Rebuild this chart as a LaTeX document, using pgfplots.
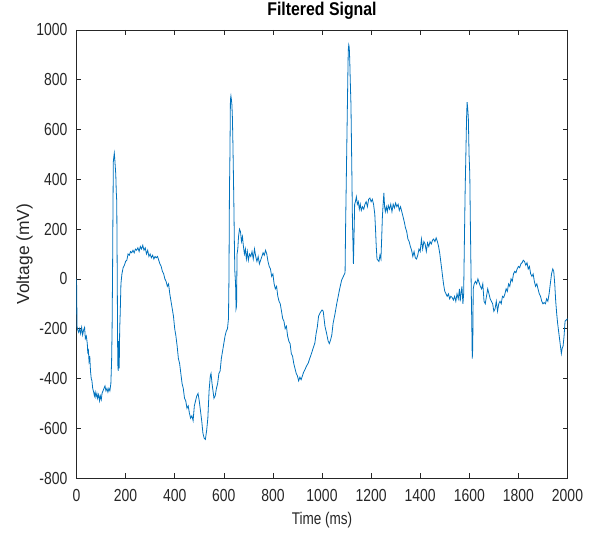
\documentclass[border=0pt]{standalone}
\usepackage{fontspec}
\setmainfont{Liberation Sans}[FakeStretch=0.8]
\newfontfamily\ylabfont{Liberation Sans}
\newfontfamily\titlefont{Liberation Sans}[FakeStretch=0.86]
\usepackage{pgfplots}
\pgfplotsset{compat=1.18}
\definecolor{mblue}{HTML}{0072BD}
\definecolor{axgray}{HTML}{262626}
\pgfplotstableread{
x y
0 0
1 -60
2 -190
5 -205
9 -215
13 -200
17 -220
21 -195
25 -225
29 -205
33 -195
36 -240
40 -230
44 -260
46 -300
48 -280
51 -330
54 -310
57 -370
60 -400
63 -410
66 -440
70 -455
73 -470
76 -455
79 -475
83 -460
86 -480
90 -465
94 -490
97 -470
101 -485
104 -460
108 -450
112 -440
116 -430
120 -450
124 -440
128 -455
132 -440
136 -450
140 -420
143 -330
145 -200
147 40
148 200
150 470
152 490
154 505
156 480
158 450
160 420
162 350
164 310
166 0
168 -340
170 -370
172 -250
174 -360
176 -200
178 -140
181 -20
185 20
190 45
195 55
200 70
205 75
210 100
215 95
220 110
225 105
230 115
235 105
240 120
245 115
250 125
255 110
260 130
265 120
270 135
275 115
280 125
285 100
290 115
295 90
300 100
305 85
310 95
315 80
320 90
325 85
330 90
335 75
340 60
345 50
350 30
355 20
360 0
365 -10
370 -30
375 -20
380 -60
385 -90
390 -120
395 -150
400 -200
405 -230
410 -270
415 -320
420 -340
425 -380
430 -420
435 -440
440 -480
445 -490
450 -520
455 -510
460 -540
465 -560
470 -550
475 -570
480 -510
485 -490
490 -470
495 -460
500 -490
505 -530
510 -570
515 -620
520 -640
525 -645
530 -610
535 -560
540 -450
545 -390
548 -380
552 -420
556 -450
560 -480
565 -470
570 -440
575 -420
580 -380
585 -370
590 -320
595 -290
600 -260
605 -230
610 -210
615 -200
619 -160
621 0
623 350
625 500
627 720
629 735
631 720
633 700
635 650
637 550
639 430
641 300
643 150
645 30
648 -20
650 -120
652 -110
654 100
657 120
660 170
664 200
668 190
672 150
676 170
680 130
684 100
688 120
692 80
696 110
700 75
705 100
710 90
715 110
720 80
725 120
730 90
735 70
740 90
745 60
750 75
755 90
760 105
765 95
770 115
775 100
780 70
785 50
790 40
795 10
800 20
805 -20
810 -40
815 -30
820 -70
825 -90
830 -100
835 -130
840 -160
845 -170
850 -200
855 -190
860 -230
865 -250
870 -260
875 -300
880 -310
885 -340
890 -360
895 -380
900 -390
905 -410
910 -395
915 -405
920 -390
925 -375
930 -366
937 -350
944 -338
950 -320
958 -297
965 -275
971 -257
976 -220
981 -193
986 -150
992 -137
1000 -125
1005 -130
1012 -190
1019 -220
1025 -250
1030 -260
1035 -245
1040 -225
1045 -180
1053 -140
1060 -100
1066 -70
1072 -40
1080 -5
1087 10
1094 25
1096 200
1099 400
1102 600
1105 800
1107 920
1109 940
1111 930
1113 880
1115 800
1118 700
1120 550
1122 400
1124 230
1126 150
1128 60
1130 150
1133 300
1136 310
1140 330
1144 300
1148 310
1152 280
1156 300
1160 275
1165 290
1170 280
1175 300
1180 310
1185 290
1190 320
1195 325
1200 310
1205 320
1210 300
1215 260
1218 200
1221 130
1224 80
1228 75
1232 70
1236 95
1240 80
1243 160
1246 250
1249 300
1252 345
1255 290
1258 270
1262 290
1266 270
1270 295
1275 280
1280 300
1285 270
1290 300
1295 285
1300 305
1305 290
1310 300
1315 275
1320 290
1325 270
1330 250
1335 230
1340 205
1345 190
1350 160
1355 150
1360 130
1365 115
1370 90
1375 110
1380 85
1385 80
1390 95
1395 120
1400 110
1405 160
1410 120
1415 150
1420 140
1425 110
1430 145
1435 130
1440 150
1445 140
1450 155
1455 160
1460 150
1465 165
1470 150
1475 130
1480 100
1485 60
1490 20
1495 -20
1500 -50
1505 -60
1510 -70
1515 -60
1520 -80
1525 -70
1530 -75
1535 -85
1540 -70
1545 -90
1550 -60
1555 -80
1560 -40
1563 -90
1566 -60
1570 -30
1574 -100
1577 -60
1580 150
1583 350
1586 500
1589 650
1591 710
1593 690
1596 650
1599 500
1602 420
1604 250
1606 100
1608 -50
1610 -170
1612 -320
1614 -280
1616 -40
1620 -20
1625 -10
1630 -20
1635 0
1640 -15
1645 -30
1650 -40
1655 -20
1660 -90
1665 -100
1670 -70
1675 -40
1680 -60
1685 -80
1690 -90
1695 -100
1700 -130
1705 -120
1710 -90
1715 -130
1720 -100
1725 -90
1730 -100
1735 -70
1740 -75
1745 -60
1750 -40
1755 -50
1760 -20
1765 -30
1770 0
1775 -10
1780 20
1785 30
1790 25
1795 40
1800 50
1805 45
1810 60
1815 65
1820 75
1825 70
1830 55
1835 65
1840 40
1845 50
1850 20
1855 10
1860 20
1865 -10
1870 -30
1875 -20
1880 -40
1885 -60
1890 -70
1895 -90
1900 -100
1905 -95
1910 -100
1915 -80
1920 -90
1925 -60
1930 -20
1935 20
1940 40
1944 30
1948 -20
1952 -90
1956 -140
1960 -180
1965 -220
1970 -260
1975 -300
1978 -280
1982 -270
1986 -230
1990 -170
1995 -165
2000 -160
}\sigdata
\begin{document}
\begin{tikzpicture}
\begin{axis}[
  scale only axis, width=491bp, height=448bp,
  xmin=0, xmax=2000, ymin=-800, ymax=1000,
  xtick={0,200,...,2000}, ytick={-800,-600,...,1000},
  scaled ticks=false,
  tick align=inside, major tick length=5bp,
  axis line style={axgray, line width=0.6bp},
  every tick/.style={axgray, line width=0.6bp},
  /pgf/number format/assume math mode=true,
  /pgf/number format/1000 sep={},
  ticklabel style={font=\fontsize{17.5}{20}\selectfont, text=axgray},
  xticklabel style={inner sep=0pt, anchor=north, yshift=-11bp},
  yticklabel style={inner sep=0pt, anchor=east, xshift=-9bp},
  title={\bfseries Filtered Signal},
  title style={font=\titlefont\fontsize{18.5}{21}\selectfont, at={(axis description cs:0.5,1.029)}, anchor=center, inner sep=0pt},
  xlabel={Time (ms)},
  xlabel style={font=\fontsize{17}{20}\selectfont, text=axgray, at={(axis description cs:0.5,-0.09375)}, anchor=center, inner sep=0pt},
  ylabel={Voltage (mV)},
  ylabel style={font=\ylabfont\fontsize{17.5}{20}\selectfont, text=axgray, at={(axis description cs:-0.1059,0.5)}, anchor=center, inner sep=0pt},
]
\addplot[mblue, line width=0.8bp, mark=none] table[x=x, y=y] {\sigdata};
\end{axis}
\pgfresetboundingbox
\path (current axis.south west) ++(-76.5bp,-55bp) rectangle ([shift={(22.5bp,30bp)}]current axis.north east);
\end{tikzpicture}
\end{document}
